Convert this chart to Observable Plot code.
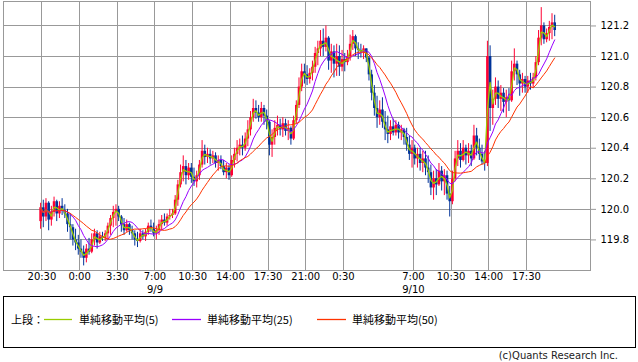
<!DOCTYPE html>
<html><head><meta charset="utf-8">
<script src="https://cdn.jsdelivr.net/npm/d3@7"></script>
<script src="https://cdn.jsdelivr.net/npm/@observablehq/plot@0.6"></script>
<style>
body{margin:0;background:#fff;font-family:"DejaVu Sans",sans-serif;}
#wrap{position:relative;width:638px;height:362px;overflow:hidden;}
#chart{position:absolute;left:0;top:0;}
#legend{position:absolute;left:3px;top:296px;width:633px;height:52px;border:1px solid #000;box-sizing:border-box;font-family:"Noto Sans CJK JP",sans-serif;font-size:11px;color:#000;}
#legend .t{position:absolute;top:15px;line-height:14px;white-space:nowrap;}
#legend svg{position:absolute;left:0;top:0;}
#copy{position:absolute;right:20px;top:350px;font-size:10px;color:#222;font-family:"DejaVu Sans",sans-serif;}
svg [aria-label="y-axis tick"]{stroke:#999;}
</style></head>
<body><div id="wrap"><div id="chart"></div>
<div id="legend">
<svg width="631" height="50">
<line x1="40" x2="68" y1="22.5" y2="22.5" stroke="#99cc00" stroke-width="1.3"/>
<line x1="168" x2="197" y1="22.5" y2="22.5" stroke="#9900ff" stroke-width="1.3"/>
<line x1="313" x2="342" y1="22.5" y2="22.5" stroke="#ff3300" stroke-width="1.3"/>
</svg>
<span class="t" style="left:7px">上段：</span>
<span class="t" style="left:75px">単純移動平均(5)</span>
<span class="t" style="left:203px">単純移動平均(25)</span>
<span class="t" style="left:348px">単純移動平均(50)</span>
</div>
<div id="copy">(c)Quants Research Inc.</div>
</div>
<script>
// 15-minute candles, first one starts 9/8 20:15 (hours counted from 9/8 0:00)
const startHour = 20.25;
const open = [
119.92,120.01,119.95,120.04,119.93,119.98,120.05,119.97,120.02,119.99,119.97,119.90,119.88,119.80,119.78,
119.74,119.72,119.68,119.74,119.72,119.80,119.84,119.78,119.82,119.81,119.84,119.89,119.94,119.98,120.00,119.95,119.90,119.86,119.90,119.86,119.84,119.80,119.79,119.84,119.82,119.85,119.89,119.87,
119.84,119.86,119.90,119.93,119.91,119.95,119.96,119.97,120.06,120.16,120.24,120.28,120.22,120.27,120.21,120.18,120.22,120.29,120.38,120.34,120.36,120.33,120.35,120.30,120.32,120.28,120.24,120.27,
120.22,120.32,120.36,120.40,120.42,120.40,120.46,120.52,120.60,120.66,120.63,120.60,120.66,120.61,120.57,120.42,120.47,120.53,120.55,120.52,120.56,120.51,120.53,120.46,120.58,120.68,120.80,120.90,120.88,120.85,120.89,120.93,121.02,121.05,121.10,121.06,121.12,120.97,121.03,120.95,
121.00,120.93,120.98,120.96,121.00,121.08,121.13,121.05,121.04,121.03,121.05,120.99,120.88,120.76,120.66,120.60,120.65,120.57,120.52,120.49,120.54,120.50,120.55,120.50,120.52,120.47,120.42,120.36,
120.40,120.33,120.36,120.30,120.33,120.27,120.24,120.14,120.20,120.16,120.25,120.18,120.22,120.10,120.05,120.20,120.33,120.38,120.32,120.40,120.35,120.38,120.33,120.48,120.40,120.36,120.31,120.30,
121.00,120.66,120.72,120.80,120.72,120.76,120.70,120.73,120.71,120.90,120.95,120.88,120.82,120.85,120.80,120.84,120.82,120.86,120.96,121.12,121.20,121.11,121.15,121.19,121.22];
const high = [
120.04,120.06,120.07,120.05,120.02,120.08,120.06,120.05,120.07,120.03,120.00,119.97,119.90,119.87,119.83,
119.80,119.76,119.77,119.81,119.84,119.87,119.86,119.85,119.85,119.86,119.91,119.96,120.02,120.03,120.02,119.96,119.94,119.93,119.91,119.89,119.86,119.85,119.87,119.86,119.87,119.91,119.93,119.91,
119.89,119.93,119.96,119.97,119.97,120.00,120.00,120.09,120.19,120.29,120.35,120.32,120.30,120.30,120.27,120.25,120.32,120.45,120.42,120.40,120.39,120.38,120.37,120.35,120.35,120.32,120.30,120.29,
120.35,120.40,120.45,120.46,120.48,120.50,120.58,120.64,120.72,120.71,120.68,120.70,120.68,120.65,120.58,120.52,120.58,120.61,120.59,120.60,120.59,120.58,120.54,120.61,120.71,120.86,120.95,120.95,120.94,120.92,120.97,121.06,121.10,121.17,121.18,121.20,121.13,121.08,121.07,121.08,
121.07,121.04,121.02,121.04,121.14,121.17,121.14,121.09,121.08,121.07,121.05,121.00,120.91,120.81,120.74,120.71,120.73,120.64,120.61,120.58,120.59,120.58,120.57,120.55,120.53,120.53,120.48,120.45,
120.42,120.40,120.40,120.38,120.38,120.35,120.29,120.25,120.26,120.30,120.28,120.26,120.25,120.15,120.25,120.38,120.45,120.43,120.45,120.42,120.43,120.42,120.55,120.53,120.46,120.42,120.38,121.10,
121.07,120.78,120.86,120.84,120.81,120.79,120.78,120.79,120.97,121.05,120.97,120.91,120.89,120.87,120.87,120.89,120.89,121.00,121.17,121.32,121.22,121.18,121.23,121.28,121.27];
const low = [
119.87,119.88,119.92,119.86,119.89,119.95,119.92,119.94,119.96,119.94,119.85,119.80,119.76,119.73,119.70,
119.68,119.63,119.65,119.70,119.71,119.76,119.74,119.77,119.79,119.79,119.80,119.83,119.88,119.89,119.92,119.85,119.83,119.85,119.83,119.80,119.76,119.75,119.78,119.80,119.79,119.83,119.85,119.82,
119.80,119.83,119.86,119.89,119.89,119.93,119.94,119.96,120.02,120.14,120.18,120.16,120.19,120.17,120.15,120.14,120.19,120.27,120.29,120.30,120.29,120.30,120.27,120.25,120.26,120.22,120.20,120.19,
120.21,120.27,120.31,120.35,120.35,120.38,120.41,120.48,120.57,120.59,120.57,120.57,120.55,120.52,120.35,120.34,120.42,120.48,120.48,120.47,120.48,120.45,120.42,120.45,120.56,120.66,120.77,120.82,120.81,120.82,120.84,120.89,120.94,121.00,121.00,121.03,120.91,120.89,120.86,120.87,
120.87,120.90,120.90,120.94,120.97,121.04,121.00,120.98,120.99,120.98,120.96,120.84,120.71,120.61,120.53,120.55,120.53,120.45,120.43,120.45,120.48,120.48,120.46,120.45,120.42,120.38,120.32,120.27,
120.29,120.27,120.25,120.24,120.22,120.17,120.09,120.06,120.09,120.15,120.12,120.09,120.06,119.95,120.03,120.18,120.28,120.27,120.31,120.29,120.30,120.28,120.32,120.35,120.32,120.29,120.25,120.28,
120.51,120.55,120.68,120.66,120.64,120.63,120.60,120.64,120.70,120.84,120.81,120.74,120.76,120.76,120.76,120.78,120.79,120.84,120.94,121.07,121.08,121.09,121.10,121.11,121.13];
const close = [
120.01,119.95,120.04,119.93,119.98,120.05,119.97,120.02,119.99,119.97,119.90,119.88,119.80,119.78,119.74,
119.72,119.68,119.74,119.72,119.80,119.84,119.78,119.82,119.81,119.84,119.89,119.94,119.98,120.00,119.95,119.90,119.86,119.90,119.86,119.84,119.80,119.79,119.84,119.82,119.85,119.89,119.87,119.84,
119.86,119.90,119.93,119.91,119.95,119.96,119.97,120.06,120.16,120.24,120.28,120.22,120.27,120.21,120.18,120.22,120.29,120.38,120.34,120.36,120.33,120.35,120.30,120.32,120.28,120.24,120.27,120.22,
120.32,120.36,120.40,120.42,120.40,120.46,120.52,120.60,120.66,120.63,120.60,120.66,120.61,120.57,120.42,120.47,120.53,120.55,120.52,120.56,120.51,120.53,120.46,120.58,120.68,120.80,120.90,120.88,120.85,120.89,120.93,121.02,121.05,121.10,121.06,121.12,120.97,121.03,120.95,121.00,
120.93,120.98,120.96,121.00,121.08,121.13,121.05,121.04,121.03,121.05,120.99,120.88,120.76,120.66,120.60,120.65,120.57,120.52,120.49,120.54,120.50,120.55,120.50,120.52,120.47,120.42,120.36,120.40,
120.33,120.36,120.30,120.33,120.27,120.24,120.14,120.20,120.16,120.25,120.18,120.22,120.10,120.05,120.20,120.33,120.38,120.32,120.40,120.35,120.38,120.33,120.48,120.40,120.36,120.31,120.30,121.00,
120.66,120.72,120.80,120.72,120.76,120.70,120.73,120.71,120.90,120.95,120.88,120.82,120.85,120.80,120.84,120.82,120.86,120.96,121.12,121.20,121.11,121.15,121.19,121.22,121.17];

const xTickHours = [20.5, 24, 27.5, 31, 34.5, 38, 41.5, 45, 48.5, 55, 58.5, 62, 65.5];
const xTickLabels = ["20:30","0:00","3:30","7:00","10:30","14:00","17:30","21:00","0:30","7:00","10:30","14:00","17:30"];
const dateHours = [31, 55];
const dateLabels = ["9/9", "9/10"];
const yTicks = [119.8, 120.0, 120.2, 120.4, 120.6, 120.8, 121.0, 121.2];
const maSpecs = [
  {k: 2, color: "#99cc00", w: 1.3},   // 単純移動平均(5) on 5-min bars ≈ 2 x 15-min bars
  {k: 9, color: "#9900ff", w: 1},     // 単純移動平均(25)
  {k: 17, color: "#ff3300", w: 1}     // 単純移動平均(50)
];

if (![high, low, close].every(a => a.length === open.length)) throw new Error("length mismatch " + [open.length, high.length, low.length, close.length]);

const candles = open.map((o, i) => ({
  t: startHour + i * 0.25 + 0.125,
  open: o, high: high[i], low: low[i], close: close[i],
  dir: close[i] >= o ? "up" : "down"
}));
const dates = dateHours.map((h, i) => ({t: h, label: dateLabels[i]}));

const chart = Plot.plot({
  width: 638, height: 296,
  marginLeft: 3, marginRight: 48, marginTop: 1, marginBottom: 26,
  style: {fontFamily: "DejaVu Sans, sans-serif", fontSize: "10px", background: "white", color: "#000"},
  x: {domain: [16.93, 71.45], ticks: xTickHours, tickSize: 0, tickPadding: 2,
      tickFormat: h => xTickLabels[xTickHours.indexOf(h)], label: null},
  y: {domain: [119.6, 121.36], axis: "right", ticks: yTicks, tickSize: 5, tickPadding: 5,
      tickFormat: d => d.toFixed(1), label: null},
  color: {domain: ["up", "down"], range: ["#ff0033", "#003399"]},
  marks: [
    Plot.ruleX(xTickHours, {stroke: "#999", strokeWidth: 1, shapeRendering: "crispEdges"}),
    Plot.ruleY(yTicks, {stroke: "#999", strokeWidth: 1, shapeRendering: "crispEdges"}),
    Plot.ruleX(candles, {x: "t", y1: "low", y2: "high", stroke: "dir", strokeWidth: 1}),
    Plot.ruleX(candles, {x: "t", y1: "open", y2: "close", stroke: "dir", strokeWidth: 2.6}),
    ...maSpecs.map(m => Plot.lineY(candles, Plot.windowY({k: m.k, anchor: "end"}, {x: "t", y: "close", stroke: m.color, strokeWidth: m.w}))),
    Plot.text(dates, {x: "t", text: "label", frameAnchor: "bottom", dy: 22, fontSize: 10}),
    Plot.frame({stroke: "#999", shapeRendering: "crispEdges"})
  ]
});
document.getElementById("chart").appendChild(chart);
</script></body></html>
